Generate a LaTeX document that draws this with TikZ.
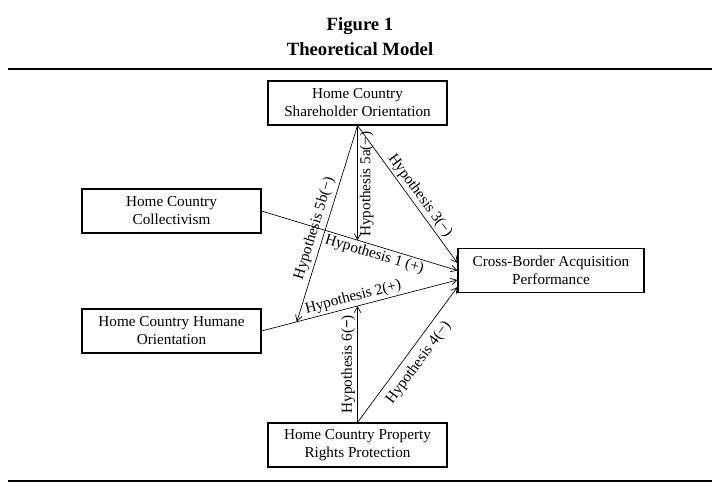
\documentclass[tikz,border=0pt]{standalone}
\usepackage{fontspec}
\setmainfont{Liberation Serif}
\usepackage{tikz}
\usetikzlibrary{shapes,arrows,arrows.meta}

\begin{document}
\begin{tikzpicture}[x=0.75pt, y=-0.75pt,
    varbox/.style={draw, line width=0.8pt, minimum width=134.25pt, minimum height=33pt,
      align=center, inner sep=2pt, font=\fontsize{11.4}{13.5}\selectfont},
    hyp/.style={line width=0.5pt, -{Straight Barb[length=4.5pt,width=5pt]}},
    hyprev/.style={line width=0.5pt, {Straight Barb[length=4.5pt,width=5pt]}-},
    hyplabel/.style={sloped, inner sep=1.5pt, font=\fontsize{11.4}{13.5}\selectfont}]
      \useasboundingbox (0,0) rectangle (727,488);

      % Title and rules
      \node[anchor=base, font=\fontsize{14}{16}\selectfont\bfseries] (fig) at (360,31) {Figure 1};
      \node[anchor=base, font=\fontsize{14}{16}\selectfont\bfseries] (model) at (360,56) {Theoretical Model};
      \draw[line width=1pt] (8,69) -- (712,69);
      \draw[line width=1pt] (8,481) -- (712,481);

      % Constructs
      \node[varbox] (share) at (357.5,103) {Home Country\\Shareholder Orientation};
      \node[varbox] (coll) at (171.5,211) {Home Country\\Collectivism};
      \node[varbox] (humane) at (171.5,331) {Home Country Humane\\Orientation};
      \node[varbox] (prop) at (357.5,445) {Home Country Property\\Rights Protection};
      \node[varbox, minimum width=139.5pt] (perf) at (551,270.5) {Cross-Border Acquisition\\Performance};

      % Direct effects
      \draw[hyp] (coll.east) -- node[hyplabel, below, pos=0.59] {Hypothesis 1 (+)}
        coordinate[pos=0.49] (h1mid) (perf.west);
      \draw[hyp] (humane.east) -- node[hyplabel, above, pos=0.48] {Hypothesis 2(+)}
        coordinate[pos=0.18] (h2left) coordinate[pos=0.49] (h2mid) ([yshift=-7.1pt]perf.west);
      \draw[hyp] (share.south) -- node[hyplabel, above, pos=0.55] {Hypothesis 3(−)} ([yshift=5.6pt]perf.west);
      \draw[hyp] (prop.north) -- node[hyplabel, below=3.5pt] {Hypothesis 4(−)} ([yshift=-12.4pt]perf.west);

      % Moderating effects
      \draw[hyprev] (share.south |- h1mid) -- node[hyplabel, below, pos=0.49] {Hypothesis 5a(−)} (share.south);
      \draw[hyp] (share.south) -- node[hyplabel, above=1pt, pos=0.54] {Hypothesis 5b(−)} (h2left);
      \draw[hyp] (prop.north) -- node[hyplabel, above] {Hypothesis 6({\bfseries −})} (prop.north |- h2mid);
    \end{tikzpicture}
\end{document}
